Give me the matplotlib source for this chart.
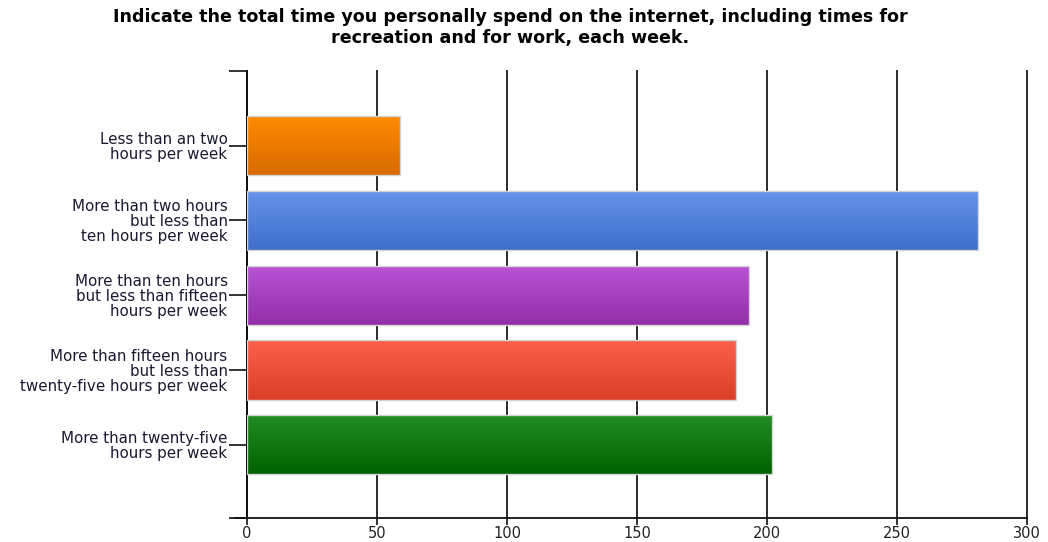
import numpy as np
import matplotlib
matplotlib.use("Agg")
import matplotlib.pyplot as plt
from matplotlib.colors import LinearSegmentedColormap

plt.rcParams['font.family'] = ['DejaVu Sans']

title = ("Indicate the total time you personally spend on the internet, including times for\n"
         "recreation and for work, each week.")
categories = [
    "Less than an two\nhours per week",
    "More than two hours\nbut less than\nten hours per week",
    "More than ten hours\nbut less than fifteen\nhours per week",
    "More than fifteen hours\nbut less than\ntwenty-five hours per week",
    "More than twenty-five\nhours per week",
]
values = [59, 281, 193, 188, 202]
xticks = [0, 50, 100, 150, 200, 250, 300]

# top / bottom colours of each bar's vertical gradient
grad_top = ["#ff8c00", "#6694ea", "#b755d6", "#fb614a", "#238d24"]
grad_bot = ["#d96a00", "#3f6fcb", "#922ea7", "#da3f27", "#006200"]

fig = plt.figure(figsize=(10.48, 5.42), dpi=100)
ax = fig.add_axes([0.2357, 0.0443, 0.9800 - 0.2357, 0.869 - 0.0443])

y = np.arange(len(categories))
bar_h = 0.79
bars = ax.barh(y, values, height=bar_h, facecolor="none",
               edgecolor="#d4d4d4", linewidth=1.0, zorder=3)

grad = np.linspace(0, 1, 256).reshape(-1, 1)
for bar, c0, c1 in zip(bars, grad_top, grad_bot):
    x0, yb = bar.get_x(), bar.get_y()
    w, h = bar.get_width(), bar.get_height()
    cmap = LinearSegmentedColormap.from_list("g", [c0, c1])
    im = ax.imshow(grad, cmap=cmap, aspect="auto", interpolation="bilinear",
                   extent=(x0, x0 + w, yb + h, yb), origin="upper", zorder=2)
    im.set_clip_path(bar)

ax.set_xlim(0, 300)
ax.set_ylim(4.98, -1.0)
ax.set_xticks(xticks)
ax.set_xticklabels([str(t) for t in xticks], fontsize=10.5, color="#222222")
ax.set_yticks(y)
ax.set_yticklabels(categories, fontsize=10.9, color="#1a1a33", linespacing=1.0)
ax.set_yticks([-1.0, 4.98], minor=True)
ax.tick_params(axis="y", which="both", length=13, width=1.2, color="#111111",
               direction="out", pad=1)
ax.tick_params(axis="x", length=5, width=1.2, color="#111111", direction="out", pad=1)

ax.grid(axis="x", color="#2a2a2a", linewidth=1.4, zorder=1)
for gl in ax.get_xgridlines():
    gl.set_clip_on(False)
for s in ["top", "right"]:
    ax.spines[s].set_visible(False)
ax.spines["left"].set_linewidth(1.3)
ax.spines["bottom"].set_linewidth(1.3)
ax.spines["left"].set_color("#111111")
ax.spines["bottom"].set_color("#111111")
ax.spines["bottom"].set_bounds(-4.5, 300)
ax.spines["bottom"].set_clip_on(False)

fig.text(0.487, 0.985, title, ha="center", va="top", fontsize=12.6,
         fontweight="bold", color="#000000", linespacing=1.2)

fig.savefig("out.png", dpi=100)
